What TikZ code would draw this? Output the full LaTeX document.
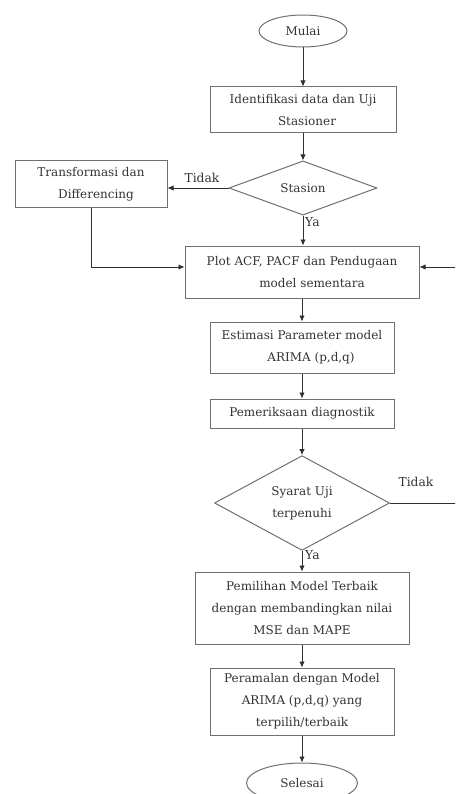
\documentclass[tikz,border=0pt]{standalone}
\usepackage{fontspec}
\setmainfont{DejaVu Serif}
\usetikzlibrary{shapes.geometric,arrows.meta}
\definecolor{boxc}{HTML}{707070}
\definecolor{linec}{HTML}{303030}
\definecolor{txtc}{HTML}{333333}
\begin{document}
\begin{tikzpicture}[x=1pt,y=-1pt,
  basefont/.style={text=txtc,font=\fontsize{12}{22}\selectfont},
  box/.style={basefont,draw=boxc,line width=1pt,inner sep=0pt,align=center,rectangle},
  term/.style={basefont,draw=boxc,line width=1pt,inner sep=0pt,ellipse},
  dec/.style={basefont,draw=boxc,line width=1pt,inner sep=0pt,align=center,diamond},
  conn/.style={draw=linec,line width=0.9pt,-{Latex[length=6pt,width=5.5pt]}},
  lbl/.style={basefont,inner sep=0pt,font=\fontsize{12.3}{14}\selectfont}]
\useasboundingbox (0,0) rectangle (455,794);
\clip (0,0) rectangle (455,794);

\node[term,minimum width=88pt,minimum height=32pt] (mulai) at (303,31) {Mulai};
\node[box,minimum width=186pt,minimum height=46pt] (ident) at (303,110) {Identifikasi data dan Uji\\\hspace*{8pt}Stasioner};
\node[dec,minimum width=148pt,minimum height=50pt] (stasion) at (303,188) {Stasion};
\node[box,minimum width=152pt,minimum height=47pt] (trans) at (91,184.5) {Transformasi dan\\\hspace*{10pt}Differencing};
\node[box,minimum width=234pt,minimum height=52pt] (plot) at (302,272) {Plot ACF, PACF dan Pendugaan\\\hspace*{20pt}model sementara};
\node[box,minimum width=184pt,minimum height=51pt] (estim) at (302,347.5) {Estimasi Parameter model\\\hspace*{18pt}ARIMA (p,d,q)};
\node[box,minimum width=184pt,minimum height=29pt] (periksa) at (302,413.5) {Pemeriksaan diagnostik};
\node[dec,minimum width=175pt,minimum height=89pt] (syarat) at (302,503) {Syarat Uji\\terpenuhi};
\node[box,minimum width=214pt,minimum height=72pt] (pilih) at (302,608) {Pemilihan Model Terbaik\\dengan membandingkan nilai\\MSE dan MAPE};
\node[box,minimum width=184pt,minimum height=67pt] (ramal) at (302,701.5) {Peramalan dengan Model\\ARIMA (p,d,q) yang\\terpilih/terbaik};
\node[term,minimum width=111pt,minimum height=40pt] (selesai) at (302,783) {Selesai};

\draw[conn] (mulai.south) -- (ident.north);
\draw[conn] (ident.south) -- (stasion.north);
\draw[conn] (stasion.west) -- (stasion.west -| trans.east);
\node[lbl] (tidak1) at (202,178) {Tidak};
\draw[conn] (trans.south) |- ([yshift=5pt]plot.west);
\draw[conn] (stasion.south) -- (stasion.south |- plot.north);
\node[lbl,anchor=west] (ya1) at (305,222) {Ya};
\draw[conn] (plot.south) -- (estim.north);
\draw[conn] (estim.south) -- (periksa.north);
\draw[conn] (periksa.south) -- (syarat.north);
\draw[conn] (syarat.south) -- (pilih.north);
\node[lbl,anchor=west] (ya2) at (305,555) {Ya};
\draw[conn] (pilih.south) -- (ramal.north);
\draw[conn] (ramal.south) -- (selesai.north);
\coordinate (loopc) at (475,503);
\draw[conn] (syarat.east) -- (loopc) |- ([yshift=5pt]plot.east);
\node[lbl] (tidak2) at (416,482) {Tidak};
\end{tikzpicture}
\end{document}
